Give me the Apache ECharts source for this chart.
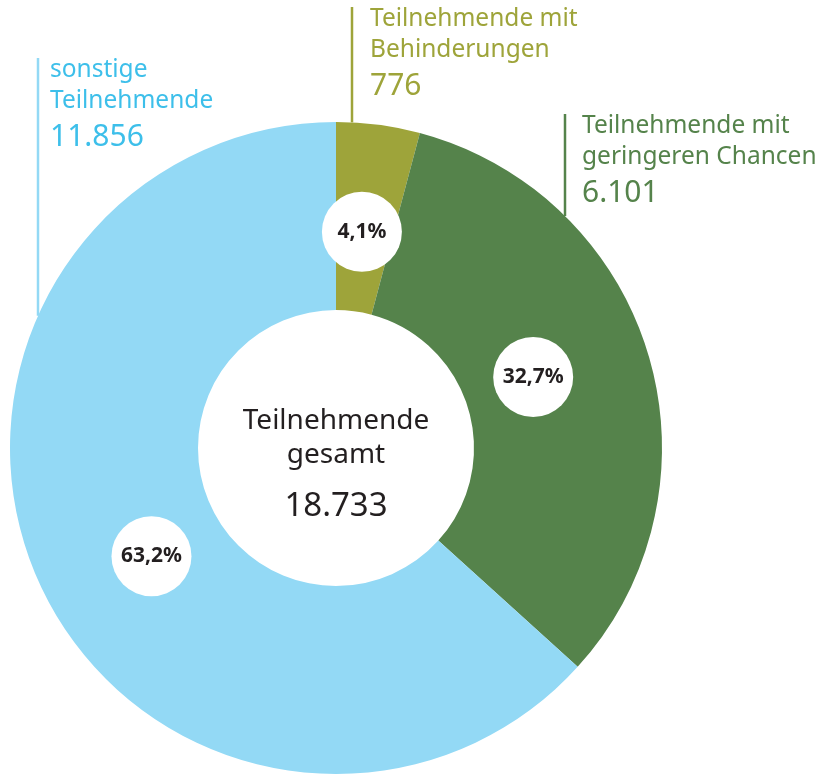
<!DOCTYPE html>
<html>
<head>
<meta charset="utf-8">
<title>Teilnehmende</title>
<script src="https://cdn.jsdelivr.net/npm/echarts@6/dist/echarts.min.js"></script>
<style>
  html, body { margin: 0; padding: 0; background: #fff; }
  #chart { width: 823px; height: 774px; }
</style>
</head>
<body>
<div id="chart"></div>
<script>
// data (clockwise from 12 o'clock)
var names = ['Teilnehmende mit\nBehinderungen', 'Teilnehmende mit\ngeringeren Chancen', 'sonstige\nTeilnehmende']
var values = [776, 6101, 11856]
var percentLabels = ['4,1%', '32,7%', '63,2%']
var centerTitle = 'Teilnehmende\ngesamt'

// styles
var sliceColors = ['#9ea43a', '#55834b', '#93d9f5']
var textColors = ['#9ea43a', '#55834b', '#3dbfea']
var CX = 336
var CY = 448
var R = 326
var R0 = 138
// where the outside labels sit: x of leader line, x/y of text block
var labelSpots = [
  { lineX: 352, textX: 370, top: 4 },
  { lineX: 565, textX: 582, top: 111 },
  { lineX: 38, textX: 50, top: 55 }
]
var percentOffsets = [[-2, -3], [-9, -10], [12, 21]]

function fmt(n) {
  return String(n).replace(/\B(?=(\d{3})+(?!\d))/g, '.')
}

var total = values.reduce(function(a, b) { return a + b }, 0)

var chart = echarts.init(document.getElementById('chart'))

var mainData = values.map(function(v, i) {
  return {
    name: names[i],
    value: v,
    itemStyle: { color: sliceColors[i] },
    labelLine: { lineStyle: { color: sliceColors[i] } },
    label: {
      rich: {
        n: { color: textColors[i], fontSize: 24.5, lineHeight: 31, fontFamily: 'Noto Sans' },
        v: { color: textColors[i], fontSize: 30, lineHeight: 40, fontFamily: 'Noto Sans' }
      }
    }
  }
})

var pctData = values.map(function(v, i) {
  return {
    name: names[i],
    value: v,
    label: { formatter: percentLabels[i], offset: percentOffsets[i] }
  }
})

chart.setOption({
  animation: false,
  title: {
    text: centerTitle,
    subtext: fmt(total),
    left: CX,
    top: 404,
    textAlign: 'center',
    padding: 0,
    itemGap: 15,
    textStyle: {
      fontFamily: 'Noto Sans',
      fontSize: 28,
      lineHeight: 34,
      fontWeight: 'normal',
      color: '#231f20'
    },
    subtextStyle: {
      fontFamily: 'Noto Sans',
      fontSize: 33,
      lineHeight: 40,
      color: '#231f20'
    }
  },
  series: [
    {
      type: 'pie',
      center: [CX, CY],
      radius: [R0, R],
      startAngle: 90,
      clockwise: true,
      avoidLabelOverlap: false,
      silent: true,
      itemStyle: { borderWidth: 0 },
      label: {
        show: true,
        position: 'outside',
        formatter: function(p) {
          var lines = p.name.split('\n').map(function(s) { return '{n|' + s + '}' })
          return lines.join('\n') + '\n{v|' + fmt(p.value) + '}'
        }
      },
      labelLine: {
        show: true,
        length: 10,
        length2: 10,
        lineStyle: { width: 2.5 }
      },
      labelLayout: function(p) {
        var s = labelSpots[p.dataIndex]
        var edgeY = CY - Math.sqrt(R * R - (s.lineX - CX) * (s.lineX - CX))
        return {
          x: s.textX,
          y: s.top,
          align: 'left',
          verticalAlign: 'top',
          labelLinePoints: [[s.lineX, edgeY], [s.lineX, edgeY], [s.lineX, s.top + 3]]
        }
      },
      data: mainData
    },
    {
      type: 'pie',
      center: [CX, CY],
      radius: [R0, 286],
      startAngle: 90,
      clockwise: true,
      silent: true,
      avoidLabelOverlap: false,
      itemStyle: { color: 'rgba(0,0,0,0)', borderWidth: 0 },
      labelLine: { show: false },
      label: {
        show: true,
        position: 'inside',
        fontFamily: 'Noto Sans',
        fontWeight: 'bold',
        fontSize: 21,
        color: '#231f20',
        backgroundColor: '#fff',
        width: 80,
        height: 80,
        lineHeight: 80,
        borderRadius: 40,
        align: 'center',
        verticalAlign: 'middle'
      },
      data: pctData
    }
  ]
})
</script>
</body>
</html>
